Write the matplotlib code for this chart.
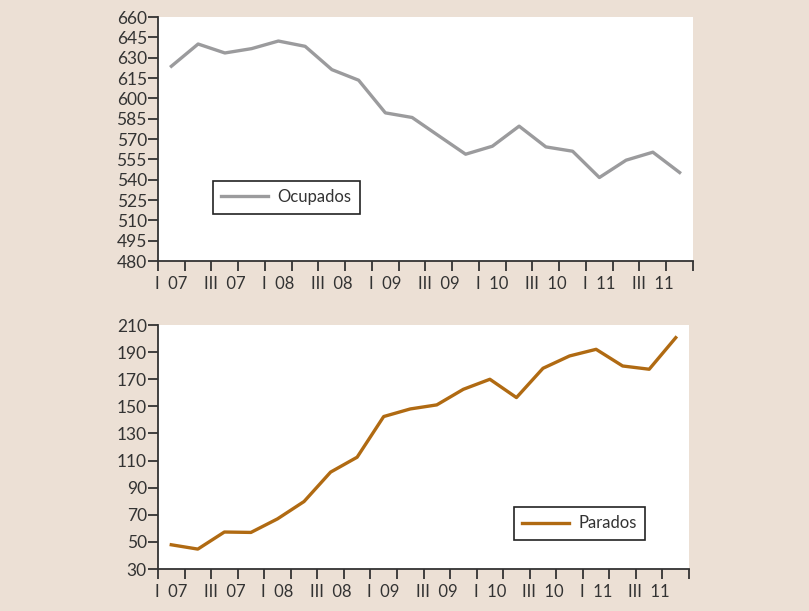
import matplotlib
matplotlib.use("Agg")
import matplotlib.pyplot as plt
import numpy as np

# quarterly data, I 07 .. IV 11
ocupados = [623.7, 640.1, 633.5, 636.7, 642.3, 638.4, 621.2, 613.4, 589.3, 585.9,
            572.3, 558.8, 564.7, 579.5, 564.2, 561.0, 541.6, 554.4, 560.3, 545.3]
parados = [47.9, 44.7, 57.3, 57.0, 67.0, 79.8, 101.5, 112.5, 142.5, 148.1,
           151.1, 162.6, 170.0, 156.5, 178.1, 187.2, 192.1, 179.8, 177.4, 200.7]
xlabels = ["I  07", "III  07", "I  08", "III  08", "I  09",
           "III  09", "I  10", "III  10", "I  11", "III  11"]
yticks_top = list(range(480, 661, 15))
yticks_bot = list(range(30, 211, 20))

bg = "#ece0d5"
gray = "#9b9b9d"
brown = "#b06a12"
axcol = "#333333"

plt.rcParams["font.family"] = ["Lato", "DejaVu Sans"]

fig = plt.figure(figsize=(8.09, 6.11), dpi=100, facecolor=bg)
ax1 = fig.add_axes([0.1953, 0.5728, 0.6613, 0.3993])
ax2 = fig.add_axes([0.1953, 0.0687, 0.6564, 0.3993])

x = np.arange(len(ocupados)) + 0.5


def style(ax, yt):
    ax.set_facecolor("white")
    for s in ["top", "right"]:
        ax.spines[s].set_visible(False)
    for s in ["left", "bottom"]:
        ax.spines[s].set_color(axcol)
        ax.spines[s].set_linewidth(1.3)
    ax.set_xlim(0, 20)
    ax.set_xticks(np.arange(0, 21))
    ax.set_xticklabels([])
    ax.set_xticks(np.arange(0, 20, 2) + 0.5, minor=True)
    ax.set_xticklabels(xlabels, minor=True)
    ax.tick_params(axis="x", which="major", length=7, width=1.3, color=axcol, direction="out")
    ax.tick_params(axis="x", which="minor", length=0, pad=11, labelsize=12, labelcolor=axcol)
    ax.set_yticks(yt)
    ax.set_ylim(yt[0], yt[-1])
    ax.tick_params(axis="y", length=7, width=1.3, color=axcol, labelsize=12.5,
                   labelcolor=axcol, pad=1)


style(ax1, yticks_top)
style(ax2, yticks_bot)

ax1.plot(x, ocupados, color=gray, lw=2.4, label="Ocupados", clip_on=False)
ax2.plot(x, parados, color=brown, lw=2.4, label="Parados", clip_on=False)

for ax, anchor in [(ax1, (0.102, 0.328)), (ax2, (0.670, 0.254))]:
    leg = ax.legend(loc="upper left", bbox_to_anchor=anchor, borderaxespad=0,
                    fancybox=False, framealpha=1, edgecolor="#222222",
                    fontsize=12, handlelength=2.8, borderpad=0.5, handletextpad=0.6)
    leg.get_frame().set_linewidth(1.2)
    for t in leg.get_texts():
        t.set_color("#333333")

fig.savefig("out.png", dpi=100, facecolor=bg)
